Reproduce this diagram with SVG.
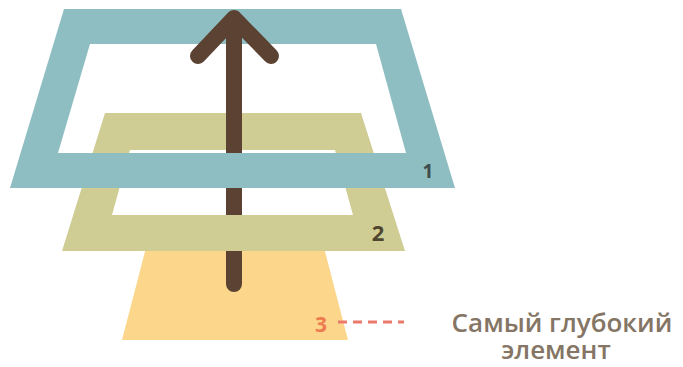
<svg xmlns="http://www.w3.org/2000/svg" width="683" height="367" viewBox="0 0 683 367">
<style>
.blue{fill:#8fbec2}
.olive{fill:#cfcd94}
.yellow{fill:#fcd68b}
.num{font-family:"Open Sans","DejaVu Sans",sans-serif;font-weight:700;text-anchor:middle}
.lbl{font-family:"Open Sans","DejaVu Sans",sans-serif;font-weight:600;font-size:26px;fill:#857565;text-anchor:middle}
.arrow{fill:none;stroke:#5b4232;stroke-width:16;stroke-linecap:round;stroke-linejoin:round}
</style>
<rect width="683" height="367" fill="#ffffff"/>
<g id="layer3">
<polygon class="yellow" points="148,240 322,240 348,340 122,340"/>
<text class="num" x="321" y="332" font-size="21" fill="#ef7a4f">3</text>
</g>
<g id="layer2">
<path class="olive" fill-rule="evenodd" d="M105,113 L361,113 L405,251 L62,251 Z M130,150 L112,215 L353,215 L335,150 Z"/>
</g>
<g id="layer1">
<path class="blue" fill-rule="evenodd" d="M64,9 L401,9 L455,188 L10,188 Z M90,44 L58,153 L406,153 L376,44 Z"/>
</g>
<g id="connectors">
<path class="arrow" d="M234,284 L234,18 M198,56 L234,18 L271,56"/>
<line x1="338" y1="322" x2="404" y2="322" stroke="#ec7a6c" stroke-width="3" stroke-dasharray="9,6"/>
</g>
<g id="front-bands">
<polygon class="olive" points="112,215 353,215 364,251 100,251"/>
<polygon class="blue" points="58,153 406,153 455,188 10,188"/>
<text class="num" x="428" y="178" font-size="19" fill="#3f4c4e">1</text>
<text class="num" x="378" y="241" font-size="22" fill="#4f4630">2</text>
</g>
<g id="label">
<text class="lbl"><tspan x="562" y="332">Самый глубокий</tspan><tspan x="556" y="359">элемент</tspan></text>
</g>
</svg>
